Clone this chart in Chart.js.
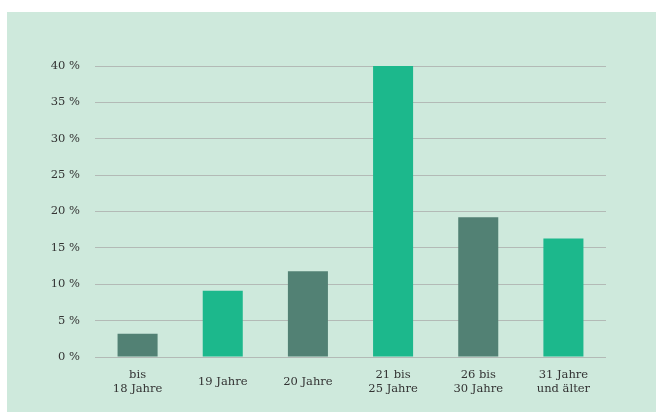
<!DOCTYPE html>
<html>
<head>
<meta charset="utf-8">
<script src="https://cdn.jsdelivr.net/npm/chart.js@4/dist/chart.umd.min.js"></script>
<style>
html,body{margin:0;padding:0;background:#ffffff;}
#wrap{width:656px;height:415px;position:relative;}
</style>
</head>
<body>
<div id="wrap"><canvas id="c" width="656" height="415"></canvas></div>
<script>
const categories = [["bis", "18 Jahre"], "19 Jahre", "20 Jahre", ["21 bis", "25 Jahre"], ["26 bis", "30 Jahre"], ["31 Jahre", "und älter"]];
const shares = [3.2, 9.1, 11.8, 40.0, 19.2, 16.3];
const yTicks = [0, 5, 10, 15, 20, 25, 30, 35, 40];
const barColors = ["#528174", "#1cb88c", "#528174", "#1cb88c", "#528174", "#1cb88c"];

const bgPlugin = {
  id: 'panelBg',
  beforeDraw(chart) {
    const ctx = chart.ctx;
    ctx.save();
    ctx.fillStyle = '#cee9dc';
    ctx.fillRect(7, 12, 649, 400);
    ctx.restore();
  }
};

Chart.defaults.font.family = '"DejaVu Serif", serif';
Chart.defaults.font.size = 11.5;
Chart.defaults.color = '#333333';

new Chart(document.getElementById('c'), {
  type: 'bar',
  data: {
    labels: categories,
    datasets: [{
      data: shares,
      backgroundColor: barColors,
      borderWidth: 0,
      categoryPercentage: 1,
      barPercentage: 0.47
    }]
  },
  options: {
    responsive: false,
    animation: false,
    devicePixelRatio: 1,
    layout: { padding: { left: 0, right: 50, top: 66, bottom: 0 } },
    plugins: { legend: { display: false }, tooltip: { enabled: false } },
    scales: {
      x: {
        grid: { display: false, drawTicks: false },
        border: { display: false },
        ticks: { padding: 18, crossAlign: 'center', maxRotation: 0, autoSkip: false, font: { lineHeight: 1.2 } },
        afterFit(s) { s.height = 58; }
      },
      y: {
        min: 0, max: 40,
        afterBuildTicks(s) { s.ticks = yTicks.map(v => ({ value: v })); },
        grid: { color: '#b3bab6', lineWidth: 1, drawTicks: false },
        border: { display: false },
        ticks: { padding: 15, callback: v => v + ' %' },
        afterFit(s) { s.width = 95; }
      }
    }
  },
  plugins: [bgPlugin]
});
</script>
</body>
</html>
